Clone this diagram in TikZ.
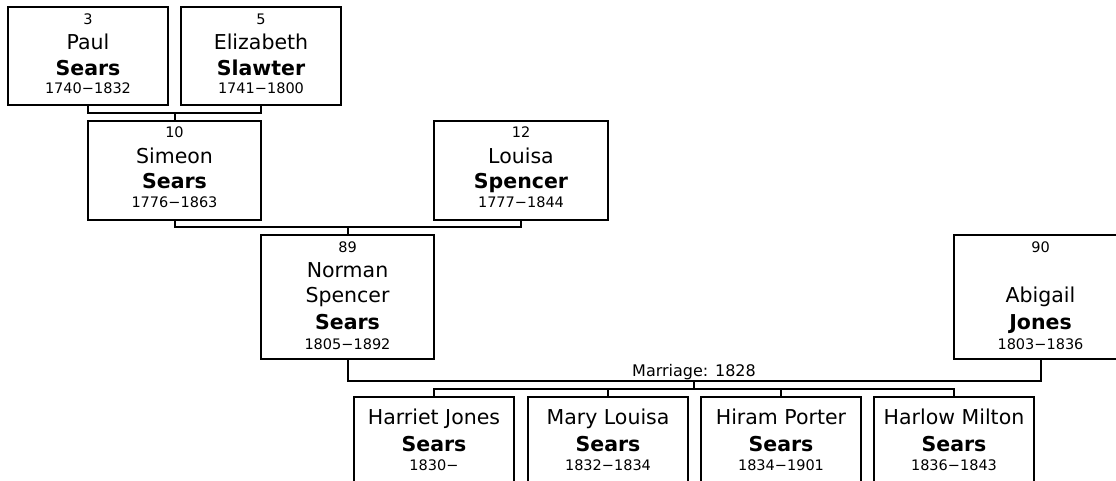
\documentclass[tikz,border=0pt]{standalone}
\usepackage{fontspec}
\setmainfont{DejaVu Sans}
\usetikzlibrary{calc}
\tikzset{
  pbox/.style={draw, line width=2pt, rectangle, inner sep=0pt, fill=white},
  link/.style={draw, line width=2pt},
  numtxt/.style={anchor=base, inner sep=0pt, font=\fontsize{14.5}{17}\selectfont},
  nametxt/.style={anchor=base, inner sep=0pt, font=\fontsize{20.5}{24}\selectfont},
  surtxt/.style={anchor=base, inner sep=0pt, font=\bfseries\fontsize{20.5}{24}\selectfont},
  yeartxt/.style={anchor=base, inner sep=0pt, font=\fontsize{14.5}{17}\selectfont},
  martxt/.style={anchor=base, inner sep=0pt, font=\fontsize{16}{19}\selectfont},
}
\begin{document}
\begin{tikzpicture}[x=1pt, y=-1pt]
\useasboundingbox (0,0) rectangle (1116,481);
\clip (0,0) rectangle (1116,481);
\fill[white] (0,0) rectangle (1116,481);

% generation 1
\node[pbox, minimum width=160pt, minimum height=98pt] (p3) at (88,56) {};
\node[pbox, minimum width=160pt, minimum height=98pt] (p5) at (261,56) {};
% generation 2
\node[pbox, minimum width=173pt, minimum height=99pt] (p10) at (174.5,170.5) {};
\node[pbox, minimum width=174pt, minimum height=99pt] (p12) at (521,170.5) {};
% generation 3
\node[pbox, minimum width=173pt, minimum height=124pt] (p89) at (347.5,297) {};
\node[pbox, minimum width=173pt, minimum height=124pt] (p90) at (1040.5,297) {};
% children
\node[pbox, minimum width=160pt, minimum height=140pt] (c1) at (434,467) {};
\node[pbox, minimum width=160pt, minimum height=140pt] (c2) at (608,467) {};
\node[pbox, minimum width=160pt, minimum height=140pt] (c3) at (781,467) {};
\node[pbox, minimum width=160pt, minimum height=140pt] (c4) at (954,467) {};

% connectors
\coordinate (j1) at (174.5,113);
\draw[link] (p3.south) |- (j1) -| (p5.south);
\draw[link] (j1) -- (p10.north);
\coordinate (j2) at (347.5,227);
\draw[link] (p10.south) |- (j2) -| (p12.south);
\draw[link] (j2) -- (p89.north);
\coordinate (m) at (694,381);
\draw[link] (p89.south) |- (m) -| (p90.south);
\coordinate (k) at (694,389);
\draw[link] (m) -- (k);
\draw[link] (c1.north) |- (k) -| (c4.north);
\draw[link] (c2.north) -- (c2.north |- k);
\draw[link] (c3.north) -- (c3.north |- k);
\node[martxt] (mar) at (694,376) {Marriage: 1828};

% texts gen 1
\node[numtxt] (p3a) at (88,25) {3};
\node[nametxt] (p3b) at (88,49.5) {Paul};
\node[surtxt] (p3c) at (88,75.5) {Sears};
\node[yeartxt] (p3d) at (88,94) {1740−1832};
\node[numtxt] (p5a) at (261,25) {5};
\node[nametxt] (p5b) at (261,49.5) {Elizabeth};
\node[surtxt] (p5c) at (261,75.5) {Slawter};
\node[yeartxt] (p5d) at (261,94) {1741−1800};
% gen 2
\node[numtxt] (p10a) at (174.5,138) {10};
\node[nametxt] (p10b) at (174.5,163.5) {Simeon};
\node[surtxt] (p10c) at (174.5,188.5) {Sears};
\node[yeartxt] (p10d) at (174.5,207.5) {1776−1863};
\node[numtxt] (p12a) at (521,138) {12};
\node[nametxt] (p12b) at (521,163.5) {Louisa};
\node[surtxt] (p12c) at (521,188.5) {Spencer};
\node[yeartxt] (p12d) at (521,207.5) {1777−1844};
% gen 3
\node[numtxt] (p89a) at (347.5,252) {89};
\node[nametxt] (p89b) at (347.5,277) {Norman};
\node[nametxt] (p89c) at (347.5,302.5) {Spencer};
\node[surtxt] (p89d) at (347.5,329.5) {Sears};
\node[yeartxt] (p89e) at (347.5,349) {1805−1892};
\node[numtxt] (p90a) at (1040.5,252) {90};
\node[nametxt] (p90b) at (1040.5,302.5) {Abigail};
\node[surtxt] (p90c) at (1040.5,329.5) {Jones};
\node[yeartxt] (p90d) at (1040.5,349) {1803−1836};
% children
\node[nametxt] (c1a) at (434,424) {Harriet Jones};
\node[surtxt] (c1b) at (434,451.5) {Sears};
\node[yeartxt] (c1c) at (434,470) {1830−};
\node[nametxt] (c2a) at (608,424) {Mary Louisa};
\node[surtxt] (c2b) at (608,451.5) {Sears};
\node[yeartxt] (c2c) at (608,470) {1832−1834};
\node[nametxt] (c3a) at (781,424) {Hiram Porter};
\node[surtxt] (c3b) at (781,451.5) {Sears};
\node[yeartxt] (c3c) at (781,470) {1834−1901};
\node[nametxt] (c4a) at (954,424) {Harlow Milton};
\node[surtxt] (c4b) at (954,451.5) {Sears};
\node[yeartxt] (c4c) at (954,470) {1836−1843};
\end{tikzpicture}
\end{document}
